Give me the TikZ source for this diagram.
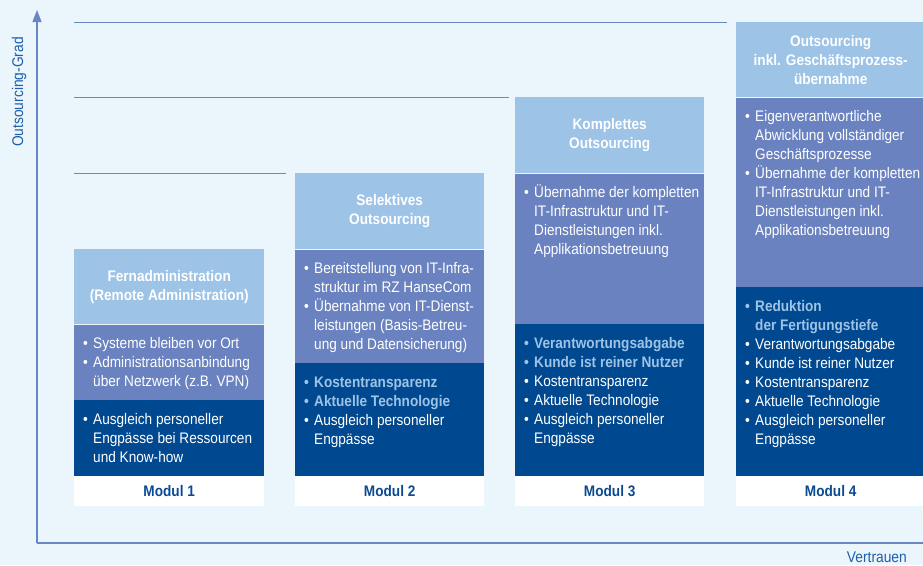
\documentclass[tikz,border=0pt]{standalone}
\usepackage{fontspec}
\setmainfont{Liberation Sans}[FakeStretch=0.89]
\usetikzlibrary{positioning,arrows.meta}

\definecolor{bgblue}{HTML}{EAF5FC}
\definecolor{headblue}{HTML}{9DC3E6}
\definecolor{midblue}{HTML}{6A82BF}
\definecolor{lowblue}{HTML}{004990}
\definecolor{textblue}{HTML}{0B4A93}
\definecolor{axisblue}{HTML}{6A87C5}
\definecolor{labelblue}{HTML}{1F5FA8}

\newcommand{\bul}[1]{\par\hangindent=10pt\hangafter=1\noindent\makebox[10pt][l]{•}#1}
\newcommand{\hlbul}[1]{\par\hangindent=10pt\hangafter=1\noindent{\color{headblue}\bfseries\makebox[10pt][l]{•}#1}}
\newcommand{\items}[1]{\parbox[t]{182pt}{\raggedright #1}}

\tikzset{
	block/.style={anchor=north west, inner sep=0pt, minimum width=189pt},
	head/.style={block, fill=headblue, text=white, align=center,
		font=\fontsize{15.3}{19}\selectfont\bfseries},
	mid/.style={block, fill=midblue, anchor=north},
	low/.style={block, fill=lowblue, anchor=north},
	foot/.style={block, fill=white, anchor=north, minimum height=30pt,
		text=textblue, font=\fontsize{15.3}{19}\selectfont\bfseries},
	list/.style={anchor=base west, inner sep=0pt,
		text=white, font=\fontsize{15.3}{19}\selectfont},
	guide/.style={draw=axisblue, line width=1pt},
	axis/.style={draw=axisblue, line width=1.3pt},
	axlabel/.style={text=labelblue, inner sep=0pt, font=\fontsize{15.5}{17}\selectfont}
}

\begin{document}
\begin{tikzpicture}[x=1pt,y=-1pt]
		%%%%% START %%%%%
		\useasboundingbox (0,0) rectangle (923,565);
		\fill[bgblue] (0,0) rectangle (923,565);
		
		% Modul 1
		\node[head, minimum width=190pt, minimum height=75pt] (h1) at (74,249) {Fernadministration\\(Remote Administration)};
		\node[mid, minimum width=190pt, minimum height=75pt, below=0pt of h1] (m1) {};
		\node[low, minimum width=190pt, minimum height=76pt, below=0pt of m1] (l1) {};
		\node[foot, minimum width=190pt, below=0pt of l1] (f1) {Modul 1};
		\node[list] (tm1) at ([xshift=9pt,yshift=-24.5pt]m1.north west) {\items{%
			\bul{Systeme bleiben vor Ort}
			\bul{Administrationsanbindung\newline über Netzwerk (z.B. VPN)}}};
		\node[list] (tl1) at ([xshift=9pt,yshift=-24.5pt]l1.north west) {\items{%
			\bul{Ausgleich personeller\newline Engpässe bei Ressourcen\newline und Know-how}}};
		
		% Modul 2
		\node[head, minimum height=76pt] (h2) at (295,173) {Selektives\\Outsourcing};
		\node[mid, minimum height=113pt, below=0pt of h2] (m2) {};
		\node[low, minimum height=113pt, below=0pt of m2] (l2) {};
		\node[foot, below=0pt of l2] (f2) {Modul 2};
		\node[list] (tm2) at ([xshift=9pt,yshift=-24.5pt]m2.north west) {\items{%
			\bul{Bereitstellung von IT-Infra-\newline struktur im RZ HanseCom}
			\bul{Übernahme von IT-Dienst-\newline leistungen (Basis-Betreu-\newline ung und Datensicherung)}}};
		\node[list] (tl2) at ([xshift=9pt,yshift=-24.5pt]l2.north west) {\items{%
			\hlbul{Kostentransparenz}
			\hlbul{Aktuelle Technologie}
			\bul{Ausgleich personeller\newline Engpässe}}};
		
		% Modul 3
		\node[head, minimum height=76pt] (h3) at (515,97) {Komplettes\\Outsourcing};
		\node[mid, minimum height=150pt, below=0pt of h3] (m3) {};
		\node[low, minimum height=152pt, below=0pt of m3] (l3) {};
		\node[foot, below=0pt of l3] (f3) {Modul 3};
		\node[list] (tm3) at ([xshift=9pt,yshift=-24pt]m3.north west) {\items{%
			\bul{Übernahme der kompletten\newline IT-Infrastruktur und IT-\newline Dienstleistungen inkl.\newline Applikationsbetreuung}}};
		\node[list] (tl3) at ([xshift=9pt,yshift=-25pt]l3.north west) {\items{%
			\hlbul{Verantwortungsabgabe}
			\hlbul{Kunde ist reiner Nutzer}
			\bul{Kostentransparenz}
			\bul{Aktuelle Technologie}
			\bul{Ausgleich personeller\newline Engpässe}}};
		
		% Modul 4
		\node[head, minimum height=75pt] (h4) at (736,22) {Outsourcing\\inkl. Geschäftsprozess-\\übernahme};
		\node[mid, minimum height=189pt, below=0pt of h4] (m4) {};
		\node[low, minimum height=189pt, below=0pt of m4] (l4) {};
		\node[foot, below=0pt of l4] (f4) {Modul 4};
		\node[list] (tm4) at ([xshift=9pt,yshift=-24.5pt]m4.north west) {\items{%
			\bul{Eigenverantwortliche\newline Abwicklung vollständiger\newline Geschäftsprozesse}
			\bul{Übernahme der kompletten\newline IT-Infrastruktur und IT-\newline Dienstleistungen inkl.\newline Applikationsbetreuung}}};
		\node[list] (tl4) at ([xshift=9pt,yshift=-24.5pt]l4.north west) {\items{%
			\hlbul{Reduktion\newline der Fertigungstiefe}
			\bul{Verantwortungsabgabe}
			\bul{Kunde ist reiner Nutzer}
			\bul{Kostentransparenz}
			\bul{Aktuelle Technologie}
			\bul{Ausgleich personeller\newline Engpässe}}};
		
		% guide lines
		\coordinate (g1) at (74,173);
		\coordinate (g2) at (74,97);
		\coordinate (g3) at (74,22);
		\draw[guide] (g1) -- ([xshift=-9pt]h2.north west);
		\draw[guide] (g2) -- ([xshift=-6pt]h3.north west);
		\draw[guide] (g3) -- ([xshift=-9pt]h4.north west);
		
		% axes
		\coordinate (o) at (37,543);
		\coordinate (ytop) at (37,10);
		\coordinate (xend) at (923,543);
		\draw[axis, -{Triangle[width=9pt,length=12pt]}] (o) -- (ytop);
		\draw[axis] (o) -- (xend);
		\node[axlabel, rotate=90] (ylab) at (19,92) {Outsourcing-Grad};
		\node[axlabel, anchor=base east] (xlab) at (907,562) {Vertrauen};
		
		%%%%% END %%%%%
	\end{tikzpicture}
\end{document}
